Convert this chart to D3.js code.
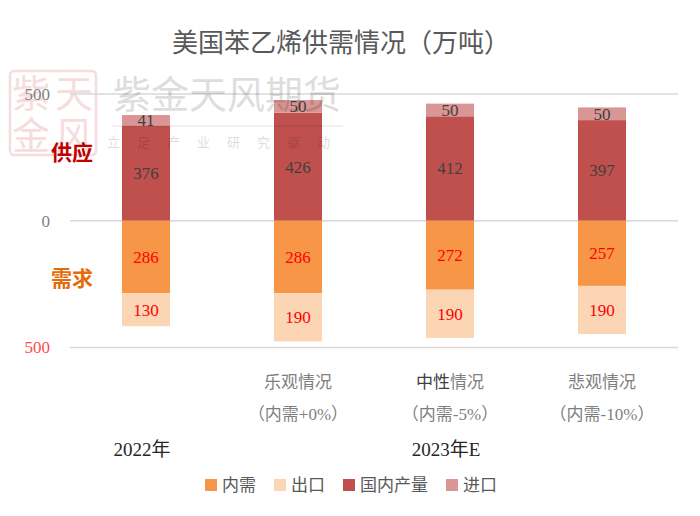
<!DOCTYPE html>
<html>
<head>
<meta charset="utf-8">
<script src="https://cdn.jsdelivr.net/npm/d3@7"></script>
<style>
  body { margin: 0; background: #fff; }
  svg { display: block; }
  text { font-family: "Liberation Serif", "Noto Sans CJK SC", serif; }
</style>
</head>
<body>
<div id="chart"></div>
<script>
// US styrene supply / demand, 10k tonnes
const categories = ['2022年', '乐观情况', '中性情况', '悲观情况'];
const subLabels = ['', '（内需+0%）', '（内需-5%）', '（内需-10%）'];
const production = [376, 426, 412, 397];
const imports = [41, 50, 50, 50];
const domestic = [286, 286, 272, 257];
const exports = [130, 190, 190, 190];
const yTicks = [500, 0, -500];
const groups = [
    { label: '2022年', from: 0, to: 0 },
    { label: '2023年E', from: 1, to: 3 }
];

const seriesNames = { domestic: '内需', exports: '出口', production: '国内产量', imports: '进口' };
const colors = {
    production: '#c0504d',
    imports: '#d99694',
    domestic: '#f79646',
    exports: '#fcd5b5'
};

const width = 700, height = 516;

const svg = d3.select('#chart').append('svg')
    .attr('width', width)
    .attr('height', height);

const x = d3.scaleBand()
    .domain(categories)
    .range([70, 678])
    .paddingInner(0.684)
    .paddingOuter(0.342);

const y = d3.scaleLinear()
    .domain([-500, 500])
    .range([347.5, 94]);

// table for the stack (demand is negative)
const rows = categories.map((c, i) => ({
    cat: c,
    production: production[i],
    imports: imports[i],
    domestic: -domestic[i],
    exports: -exports[i]
}));

const stack = d3.stack()
    .keys(['production', 'imports', 'domestic', 'exports'])
    .offset(d3.stackOffsetDiverging);
const series = stack(rows);

// watermark stamp (behind everything)
const stamp = svg.append('g').attr('opacity', 0.35);
stamp.append('rect')
    .attr('x', 10).attr('y', 71)
    .attr('width', 86).attr('height', 84)
    .attr('rx', 4)
    .attr('fill', 'none')
    .attr('stroke', '#e8a0a0')
    .attr('stroke-width', 2.5);
[['紫', 31, 94], ['天', 74, 94], ['金', 31, 136], ['风', 74, 136]].forEach(([ch, cx, cy]) => {
    stamp.append('text')
        .attr('x', cx).attr('y', cy)
        .attr('dy', '0.35em')
        .attr('text-anchor', 'middle')
        .style('font-size', '38px')
        .style('font-family', '"Noto Sans CJK SC"')
        .attr('fill', '#e8a0a0')
        .text(ch);
});

// grid lines
svg.append('g')
    .selectAll('line')
    .data(yTicks)
    .join('line')
    .attr('x1', x.range()[0])
    .attr('x2', x.range()[1])
    .attr('y1', d => y(d))
    .attr('y2', d => y(d))
    .attr('stroke', '#d9d9d9')
    .attr('stroke-width', 1.5);

// y tick labels
svg.append('g')
    .selectAll('text')
    .data(yTicks)
    .join('text')
    .attr('x', 50)
    .attr('y', d => y(d))
    .attr('dy', '0.35em')
    .attr('text-anchor', 'end')
    .style('font-size', '17px')
    .attr('fill', d => d < 0 ? '#ff4b4b' : '#7f7f7f')
    .text(d => Math.abs(d));

// bars
const layers = svg.append('g')
    .selectAll('g')
    .data(series)
    .join('g')
    .attr('fill', d => colors[d.key]);

layers.selectAll('rect')
    .data(d => d)
    .join('rect')
    .attr('x', d => x(d.data.cat))
    .attr('width', x.bandwidth())
    .attr('y', d => y(Math.max(d[0], d[1])))
    .attr('height', d => Math.abs(y(d[0]) - y(d[1])));

// value labels
series.forEach(s => {
    const isSupply = s.key === 'production' || s.key === 'imports';
    svg.append('g')
        .selectAll('text')
        .data(s)
        .join('text')
        .attr('x', d => x(d.data.cat) + x.bandwidth() / 2)
        .attr('y', d => y((d[0] + d[1]) / 2))
        .attr('dy', '0.35em')
        .attr('text-anchor', 'middle')
        .style('font-size', '17px')
        .attr('fill', isSupply ? '#404040' : '#ff0000')
        .text(d => Math.abs(d[1] - d[0]));
});

// side labels
svg.append('text')
    .attr('x', 72).attr('y', y(270))
    .attr('dy', '0.35em')
    .attr('text-anchor', 'middle')
    .style('font-size', '21px').style('font-weight', 'bold')
    .attr('fill', '#c00000')
    .text('供应');

svg.append('text')
    .attr('x', 72).attr('y', y(-230))
    .attr('dy', '0.35em')
    .attr('text-anchor', 'middle')
    .style('font-size', '21px').style('font-weight', 'bold')
    .attr('fill', '#e46c0a')
    .text('需求');

// category labels
const catG = svg.append('g');
categories.forEach((c, i) => {
    if (i === 0) return;
    const cx = x(c) + x.bandwidth() / 2;
    const t = catG.append('text')
        .attr('x', cx).attr('y', 382)
        .attr('dy', '0.35em')
        .attr('text-anchor', 'middle')
        .style('font-size', '17px')
        .attr('fill', '#7f7f7f');
    if (c === '中性情况') {
        t.append('tspan').attr('fill', '#404040').text('中性');
        t.append('tspan').text('情况');
    } else {
        t.text(c);
    }
    catG.append('text')
        .attr('x', cx).attr('y', 414)
        .attr('dy', '0.35em')
        .attr('text-anchor', 'middle')
        .style('font-size', '17px')
        .attr('fill', '#7f7f7f')
        .text(subLabels[i]);
});

// year groups
svg.append('g')
    .selectAll('text')
    .data(groups)
    .join('text')
    .attr('x', d => (x(categories[d.from]) + x(categories[d.to]) + x.bandwidth()) / 2 - 4)
    .attr('y', 449)
    .attr('dy', '0.35em')
    .attr('text-anchor', 'middle')
    .style('font-size', '19px')
    .attr('fill', '#262626')
    .text(d => d.label);

// title
svg.append('text')
    .attr('x', 341).attr('y', 43)
    .attr('dy', '0.35em')
    .attr('text-anchor', 'middle')
    .style('font-size', '26px')
    .attr('fill', '#595959')
    .text('美国苯乙烯供需情况（万吨）');

// legend
const legendKeys = ['domestic', 'exports', 'production', 'imports'];
const legend = svg.append('g').attr('transform', 'translate(205, 485)');
let lx = 0;
legendKeys.forEach(k => {
    const item = legend.append('g').attr('transform', `translate(${lx}, 0)`);
    item.append('rect')
        .attr('x', 0).attr('y', -6)
        .attr('width', 12).attr('height', 12)
        .attr('fill', colors[k]);
    const t = item.append('text')
        .attr('x', 17).attr('y', 0)
        .attr('dy', '0.35em')
        .style('font-size', '17px')
        .attr('fill', '#595959')
        .text(seriesNames[k]);
    lx += 17 + t.node().getComputedTextLength() + 18;
});

// watermark text
const wm = svg.append('g').attr('pointer-events', 'none');
wm.append('text')
    .attr('x', 227).attr('y', 95)
    .attr('dy', '0.35em')
    .attr('text-anchor', 'middle')
    .style('font-size', '38px')
    .style('font-family', '"Noto Sans CJK SC"')
    .attr('fill', '#000')
    .attr('opacity', 0.13)
    .text('紫金天风期货');
wm.append('line')
    .attr('x1', 112).attr('x2', 343)
    .attr('y1', 126).attr('y2', 126)
    .attr('stroke', '#000')
    .attr('opacity', 0.1);
wm.append('text')
    .attr('x', 227).attr('y', 142)
    .attr('dy', '0.35em')
    .attr('text-anchor', 'middle')
    .style('font-size', '13px')
    .style('font-family', '"Noto Sans CJK SC"')
    .style('letter-spacing', '17px')
    .attr('fill', '#000')
    .attr('opacity', 0.13)
    .text('立足产业研究驱动');
</script>
</body>
</html>
